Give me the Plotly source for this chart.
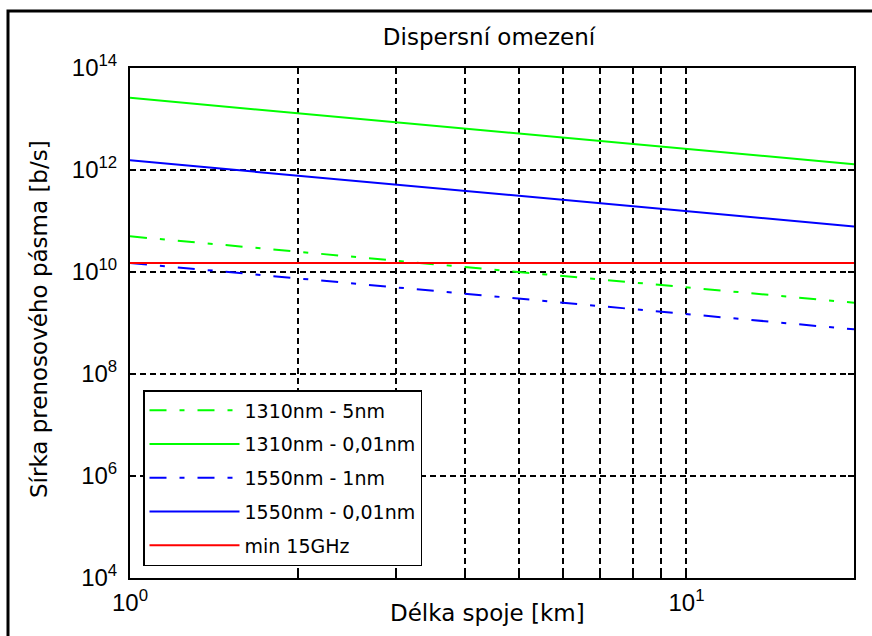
import plotly.graph_objects as go

# Data
length_km = [1, 2, 5, 10, 20]
bw_1310_5nm = [5.0e10, 2.5e10, 1.0e10, 5.0e9, 2.5e9]
bw_1310_001nm = [2.6e13, 1.3e13, 5.2e12, 2.6e12, 1.3e12]
bw_1550_1nm = [1.5e10, 7.5e9, 3.0e9, 1.5e9, 7.5e8]
bw_1550_001nm = [1.55e12, 7.8e11, 3.1e11, 1.55e11, 7.8e10]
min_15ghz = [1.5e10, 1.5e10, 1.5e10, 1.5e10, 1.5e10]

series_names = ["1310nm - 5nm", "1310nm - 0,01nm", "1550nm - 1nm", "1550nm - 0,01nm", "min 15GHz"]

x_tick_vals = [1, 2, 3, 4, 5, 6, 7, 8, 9, 10]
x_tick_text = ["10<sup>0</sup>", "", "", "", "", "", "", "", "", "10<sup>1</sup>"]
y_tick_vals = [1e4, 1e6, 1e8, 1e10, 1e12, 1e14]
y_tick_text = ["10<sup>4</sup>", "10<sup>6</sup>", "10<sup>8</sup>", "10<sup>10</sup>",
               "10<sup>12</sup>", "10<sup>14</sup>"]

title_text = "Dispersní omezení"
x_label = "Délka spoje [km]"
y_label = "Sírka prenosového pásma [b/s]"

dashdot = "17px,13px,5px,13px"
styles = [
    dict(color="#00ff00", dash=dashdot),
    dict(color="#00ff00", dash="solid"),
    dict(color="#0000ff", dash=dashdot),
    dict(color="#0000ff", dash="solid"),
    dict(color="#ff0000", dash="solid"),
]
values = [bw_1310_5nm, bw_1310_001nm, bw_1550_1nm, bw_1550_001nm, min_15ghz]

fig = go.Figure()
for name, vals, st in zip(series_names, values, styles):
    fig.add_trace(go.Scatter(
        x=length_km, y=vals, mode="lines", name=name, legendgroup=name,
        line=dict(color=st["color"], dash=st["dash"], width=2),
    ))

W, H = 872, 636
L, R, T, B = 130, 18, 68, 58
pw, ph = W - L - R, H - T - B

def px_x(p):
    return (p - L) / pw

def px_y(p):
    return (H - B - p) / ph

axis_common = dict(
    showline=True, linecolor="black", linewidth=2, mirror="ticks",
    ticks="inside", ticklen=6, tickcolor="black", tickwidth=1.5,
    showgrid=True, gridcolor="black", gridwidth=1.8, griddash="6px,4px",
    zeroline=False,
    tickfont=dict(family="Liberation Sans, Arial, sans-serif", size=24, color="black"),
)

fig.update_xaxes(type="log", range=[0, 1.30103], tickmode="array",
                 tickvals=x_tick_vals, ticktext=x_tick_text, ticklabelstandoff=2,
                 **axis_common)
fig.update_yaxes(type="log", range=[4, 14], tickmode="array",
                 tickvals=y_tick_vals, ticktext=y_tick_text, ticklabelstandoff=6,
                 **axis_common)

fig.update_layout(
    width=W, height=H, autosize=False,
    margin=dict(l=L, r=R, t=T, b=B, pad=0),
    paper_bgcolor="white", plot_bgcolor="white",
    font=dict(family="DejaVu Sans, sans-serif", color="black"),
    title=dict(text=title_text, x=px_x(489), xref="paper", xanchor="center",
               y=1 - 36.5 / H, yref="container", yanchor="middle",
               font=dict(family="DejaVu Sans, sans-serif", size=23, color="black")),
    legend=dict(
        x=px_x(143), y=px_y(390), xanchor="left", yanchor="top",
        bgcolor="white", bordercolor="black", borderwidth=1.5,
        font=dict(family="DejaVu Sans, sans-serif", size=19, color="black"),
        itemwidth=90, tracegroupgap=6, traceorder="grouped",
    ),
    showlegend=True,
    annotations=[
        dict(text=x_label, x=px_x(487.5), y=px_y(613), xref="paper", yref="paper",
             xanchor="center", yanchor="middle", showarrow=False,
             font=dict(family="DejaVu Sans, sans-serif", size=23, color="black")),
        dict(text=y_label, x=px_x(39), y=px_y(319), xref="paper", yref="paper",
             xanchor="center", yanchor="middle", showarrow=False, textangle=-90,
             font=dict(family="DejaVu Sans, sans-serif", size=23, color="black")),
    ],
    shapes=[
        dict(type="rect", xref="paper", yref="paper",
             x0=px_x(8), x1=px_x(W + 20), y0=px_y(H + 20), y1=px_y(11),
             line=dict(color="black", width=3), layer="above"),
    ],
)

fig.write_html("out.html")
